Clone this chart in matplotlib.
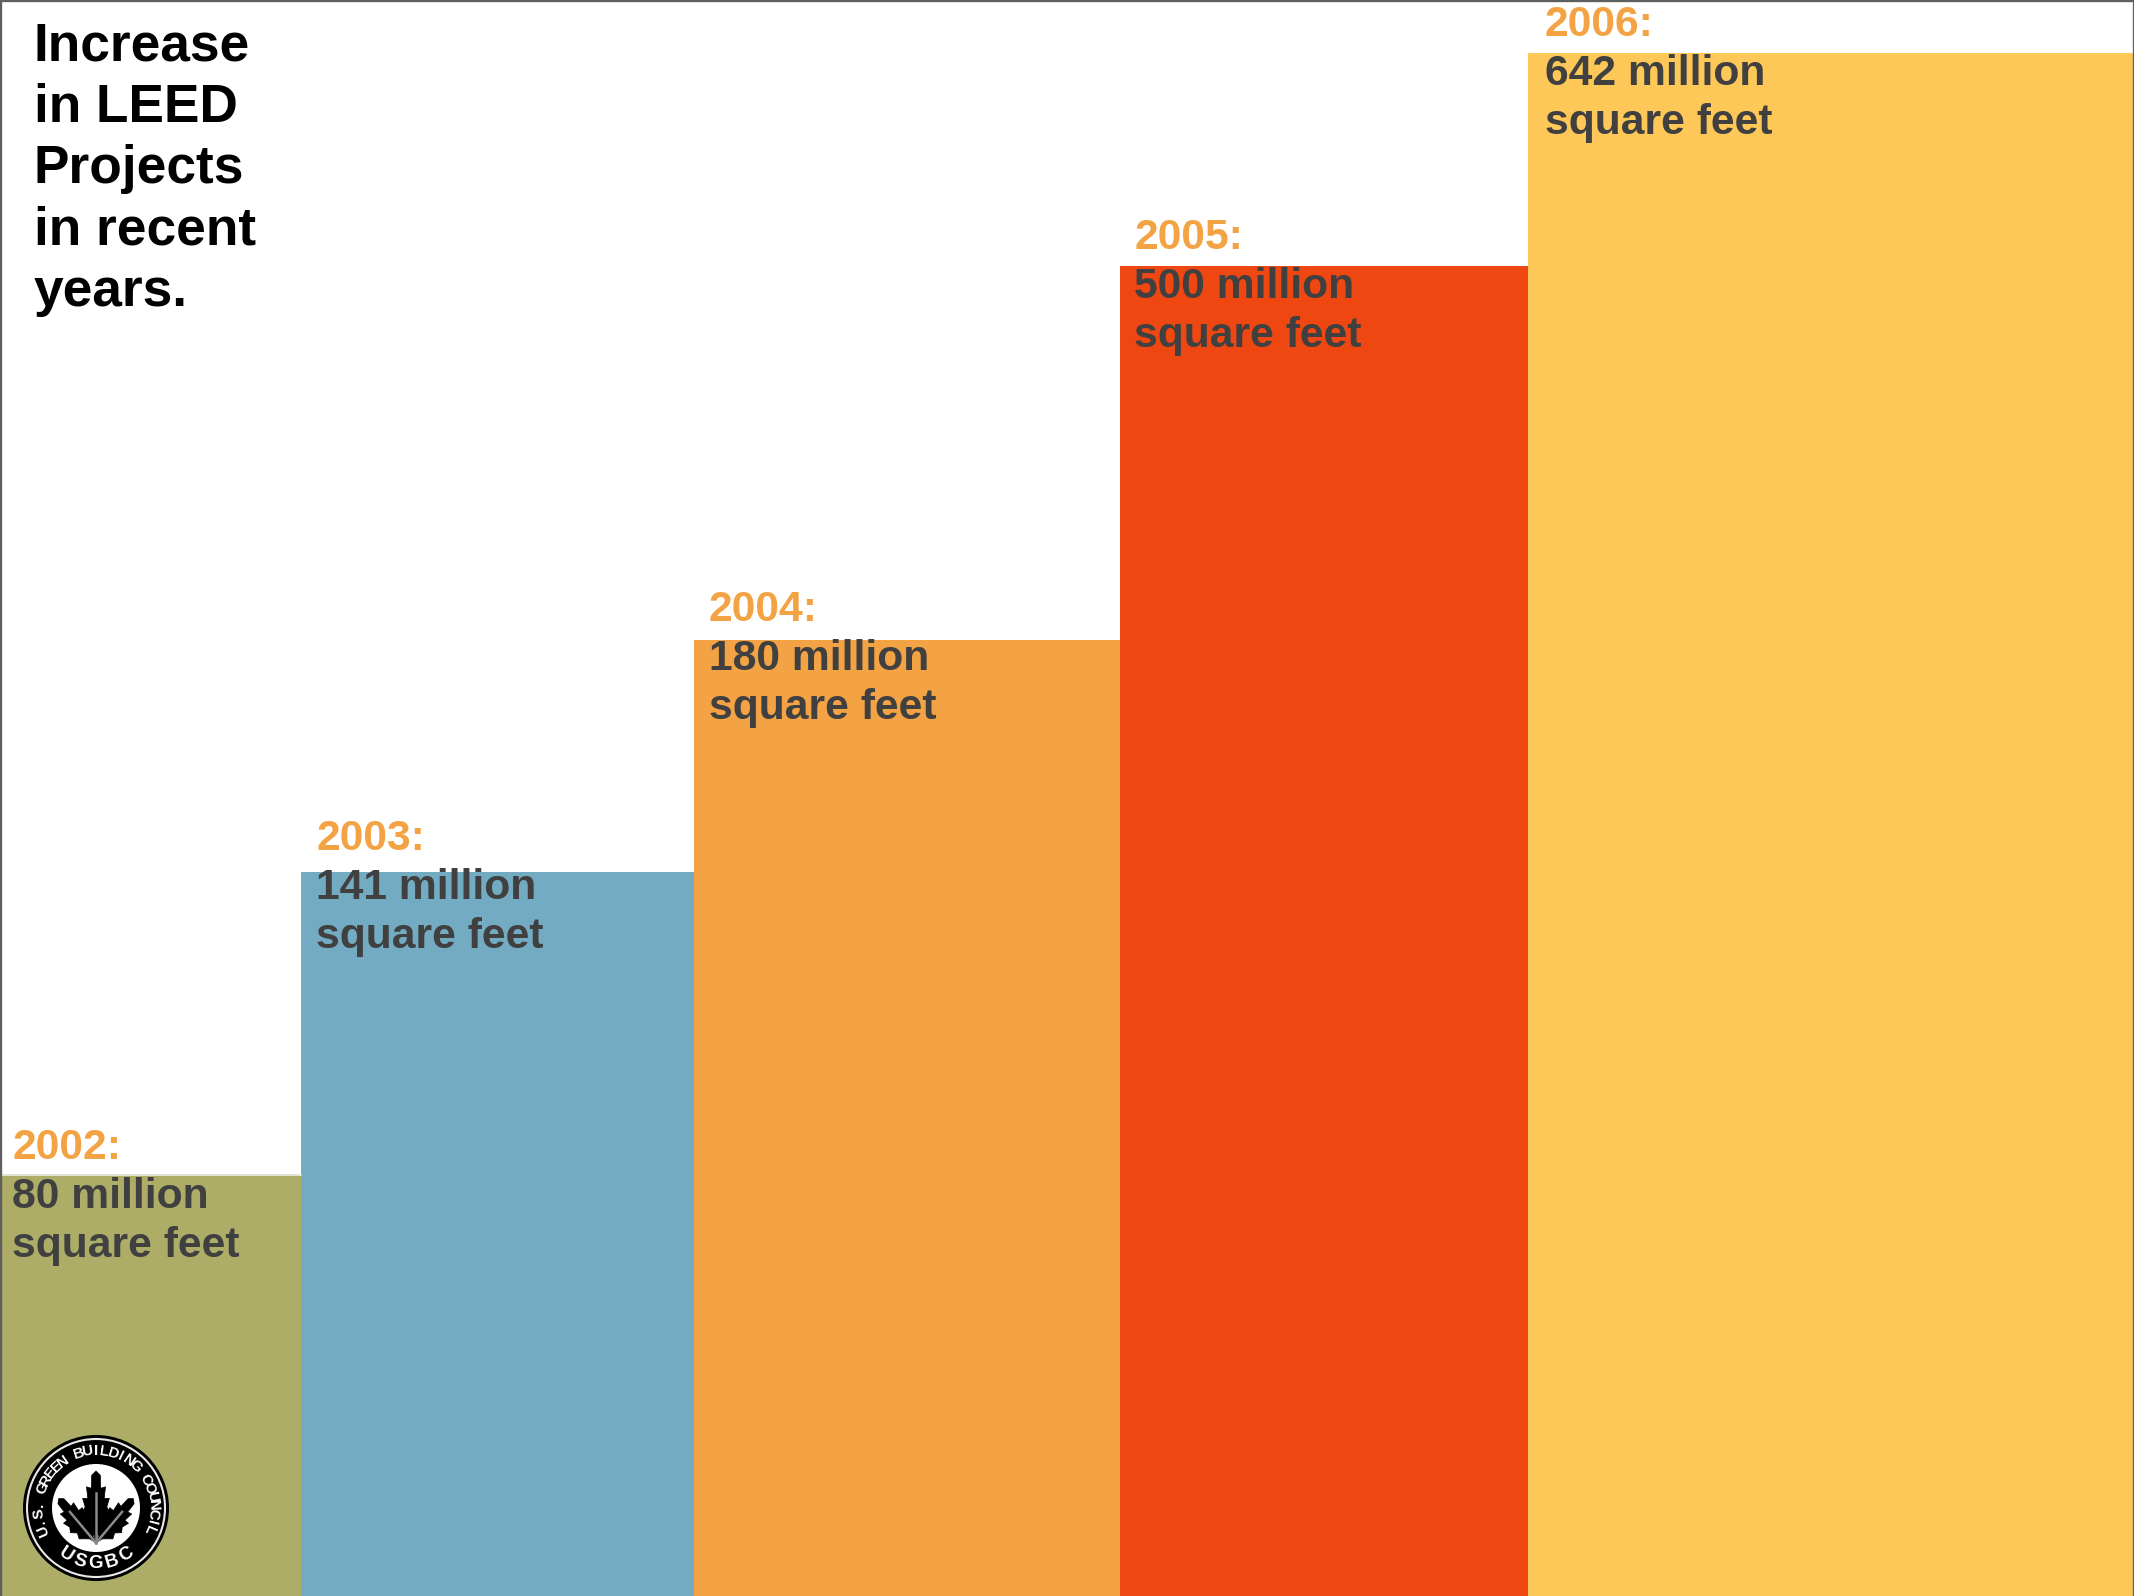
import numpy as np
import matplotlib
matplotlib.use('Agg')
import matplotlib.pyplot as plt
from matplotlib.patches import Circle, Polygon

plt.rcParams['font.family'] = ['Liberation Sans', 'DejaVu Sans']

# the bars are not to scale with the labels, so the drawn heights are read off the picture
years = ['2002', '2003', '2004', '2005', '2006']
areas = [80, 141, 180, 500, 642]
drawn_heights = [420, 724, 956, 1330, 1543]
bar_widths = [301, 393, 426, 408, 606]
colors = ['#ADAD68', '#72ABC2', '#F3A343', '#EE4712', '#FEC858']
title_lines = ['Increase', 'in LEED', 'Projects', 'in recent', 'years.']

W, H = 2134, 1596
YEAR_COLOR = '#F3A343'
TEXT_COLOR = '#404040'
EDGE_COLOR = '#5F5F5F'

# lobed outline of one oak leaf, base at (0, 0), tip at (0, 1)
LEAF_OUTLINE = [(0, 0), (-0.10, 0.12), (-0.30, 0.18), (-0.52, 0.24), (-0.40, 0.34), (-0.66, 0.42),
                (-0.50, 0.50), (-0.62, 0.62), (-0.38, 0.62), (-0.44, 0.78), (-0.22, 0.76),
                (-0.20, 0.94), (0, 1), (0.20, 0.94), (0.22, 0.76), (0.44, 0.78), (0.38, 0.62),
                (0.62, 0.62), (0.50, 0.50), (0.66, 0.42), (0.40, 0.34), (0.52, 0.24),
                (0.30, 0.18), (0.10, 0.12)]


def draw_leaf(ax, base, length, angle, fat, vein='#8A8A8A'):
    a = np.radians(angle)
    rot = np.array([[np.cos(a), -np.sin(a)], [np.sin(a), np.cos(a)]])
    pts = np.array(LEAF_OUTLINE) * [length * fat, length]
    pts = pts @ rot.T + base
    ax.add_patch(Polygon(pts, closed=True, fc='black', ec='black', lw=0.5, zorder=6))
    vein_end = rot @ np.array([0, 0.7 * length]) + base
    ax.plot([base[0], vein_end[0]], [base[1], vein_end[1]], color=vein, lw=1.8, zorder=7)


def text_on_circle(ax, text, center, radius, start, end, size, top=True):
    for ch, ang in zip(text, np.linspace(start, end, len(text))):
        r = np.radians(ang)
        x = center[0] + radius * np.cos(r)
        y = center[1] + radius * np.sin(r)
        rotation = ang - 90 if top else ang + 90
        ax.text(x, y, ch, color='white', fontsize=size, fontweight='bold', ha='center',
                va='center', rotation=rotation, rotation_mode='anchor', zorder=7)


def draw_logo(ax, center):
    ax.add_patch(Circle(center, 73, fc='black', ec='none', zorder=5))
    ax.add_patch(Circle(center, 69, fc='none', ec='#E8E8E8', lw=1.5, zorder=6))
    ax.add_patch(Circle(center, 44, fc='white', ec='none', zorder=6))
    base = (center[0], center[1] - 35)
    draw_leaf(ax, base, 72, 0, 0.30)
    draw_leaf(ax, base, 58, 40, 0.34)
    draw_leaf(ax, base, 58, -40, 0.34)
    text_on_circle(ax, 'U.S. GREEN BUILDING COUNCIL', center, 57, 203, -23, 11)
    text_on_circle(ax, 'USGBC', center, 56, 237, 303, 13.5, top=False)


fig = plt.figure(figsize=(W / 100, H / 100), dpi=100)
ax = fig.add_axes([0, 0, 1, 1])

lefts = np.concatenate([[0], np.cumsum(bar_widths)[:-1]])
bars = ax.bar(lefts, drawn_heights, width=bar_widths, align='edge', color=colors, linewidth=0)
ax.plot([0, bar_widths[0]], [drawn_heights[0] + 1, drawn_heights[0] + 1], color='#DEDECB', lw=1.2)

text_offsets = [12, 15, 15, 14, 17]
text_shifts = [0, 5, 2, 0, 0]
for bar, year, area, off, shift in zip(bars, years, areas, text_offsets, text_shifts):
    x = bar.get_x() + off
    top = bar.get_height() + shift
    ax.text(x, top + 17, year + ':', color=YEAR_COLOR, fontsize=30.7, fontweight='bold', va='baseline')
    ax.text(x, top - 32, f'{area} million', color=TEXT_COLOR, fontsize=30.7, fontweight='bold', va='baseline')
    ax.text(x, top - 81, 'square feet', color=TEXT_COLOR, fontsize=30.7, fontweight='bold', va='baseline')

for i, line in enumerate(title_lines):
    ax.text(33.5, H - 60.5 - 61.4 * i, line, color='black', fontsize=38.3, fontweight='bold', va='baseline')

draw_logo(ax, (96, 88))

ax.set_xlim(0, W)
ax.set_ylim(0, H)
ax.set_xticks([])
ax.set_yticks([])
ax.spines['bottom'].set_visible(False)
for side in ['left', 'top', 'right']:
    ax.spines[side].set_color(EDGE_COLOR)
    ax.spines[side].set_linewidth(2.4)

fig.savefig('out.png', dpi=100)
